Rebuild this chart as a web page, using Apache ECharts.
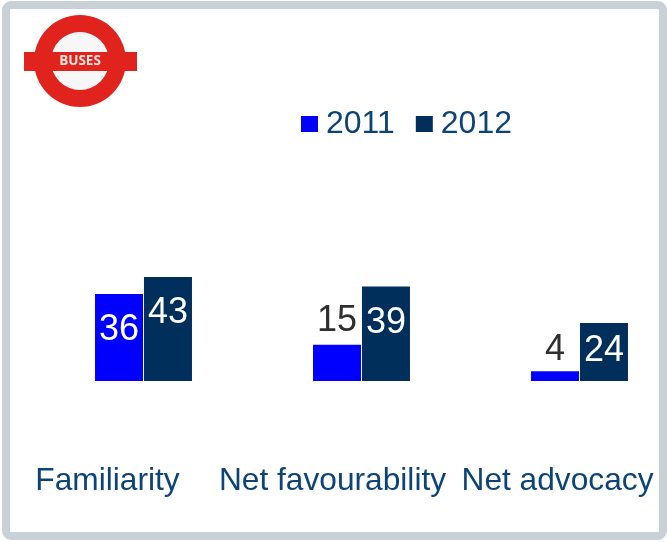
<!DOCTYPE html>
<html>
<head>
<meta charset="utf-8">
<style>html,body{margin:0;padding:0;background:#fff}#chart{width:667px;height:542px}</style>
<script src="https://cdn.jsdelivr.net/npm/echarts@6/dist/echarts.min.js"></script>
</head>
<body>
<div id="chart"></div>
<script>
const categories = ['Familiarity', 'Net favourability', 'Net advocacy'];
const values2011 = [36, 15, 4];
const values2012 = [43, 39, 24];
const yMax = 50;

const FONT = '"Liberation Sans", Arial, sans-serif';
const BLUE = '#0000ff';
const NAVY = '#002f5b';
const TEXT_BLUE = '#0c4478';
const LOGO_RED = '#e0231d';

// Short bars carry their number above the bar, tall ones inside near the top.
const toItem = v => v >= 20
  ? { value: v, label: { position: 'insideTop', distance: v >= 30 ? 18 : 10, color: '#ffffff' } }
  : { value: v, label: { position: 'top', distance: v >= 10 ? 6 : 3, color: '#2f2f2f' } };

const barSeries = (name, values, color) => ({
  name,
  type: 'bar',
  xAxisIndex: 0,
  yAxisIndex: 0,
  barWidth: 48,
  barGap: '2%',
  clip: false,
  itemStyle: { color },
  label: { show: true, fontFamily: FONT, fontSize: 36 },
  data: values.map(toItem)
});

const chart = echarts.init(document.getElementById('chart'), null, { renderer: 'canvas' });
chart.setOption({
  animation: false,
  backgroundColor: '#ffffff',
  legend: {
    left: 301,
    top: 108,
    padding: 0,
    itemWidth: 17,
    itemHeight: 16,
    itemGap: 21,
    icon: 'rect',
    textStyle: { fontFamily: FONT, fontSize: 32, color: TEXT_BLUE, padding: [0, 0, 0, 3] },
    data: ['2011', '2012']
  },
  // First grid holds the bars, with groups centred on its ticks;
  // the second only spaces the category names.
  grid: [
    { left: 143.5, top: 260, width: 436, height: 121 },
    { left: 107.5, top: 260, width: 450, height: 121 }
  ],
  xAxis: [
    { type: 'category', gridIndex: 0, data: categories, boundaryGap: false,
      axisLine: { show: false }, axisTick: { show: false }, axisLabel: { show: false } },
    { type: 'category', gridIndex: 1, data: categories, boundaryGap: false,
      axisLine: { show: false }, axisTick: { show: false },
      axisLabel: { margin: 84, fontFamily: FONT, fontSize: 31.7, color: TEXT_BLUE, interval: 0, hideOverlap: false } }
  ],
  yAxis: [
    { type: 'value', gridIndex: 0, min: 0, max: yMax, show: false },
    { type: 'value', gridIndex: 1, min: 0, max: yMax, show: false }
  ],
  series: [
    barSeries('2011', values2011, BLUE),
    barSeries('2012', values2012, NAVY)
  ],
  graphic: [
    // Frame around the slide
    { type: 'rect', silent: true, z: 10,
      shape: { x: 6, y: 5, width: 657, height: 531, r: 5 },
      style: { fill: 'none', stroke: '#c9d1d7', lineWidth: 8 } },
    // Roundel logo
    { type: 'circle', silent: true, z: 9,
      shape: { cx: 80, cy: 61, r: 30 },
      style: { fill: '#f7f7f7' } },
    { type: 'ring', silent: true, z: 10,
      shape: { cx: 80, cy: 61, r: 46, r0: 29 },
      style: { fill: LOGO_RED } },
    { type: 'rect', silent: true, z: 11,
      shape: { x: 24, y: 52, width: 113, height: 19 },
      style: { fill: LOGO_RED } },
    { type: 'text', silent: true, z: 12,
      style: { x: 80, y: 61, text: 'BUSES', fill: '#f6e3dc', align: 'center', verticalAlign: 'middle',
        font: 'bold 13.5px "Open Sans", sans-serif' } }
  ]
});
</script>
</body>
</html>
